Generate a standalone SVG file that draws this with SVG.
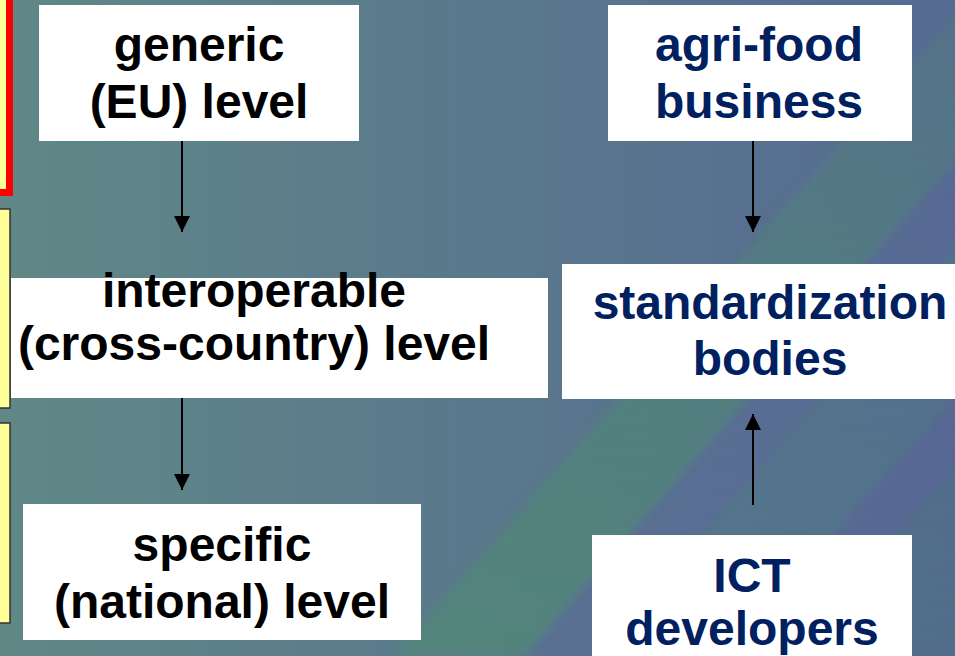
<svg xmlns="http://www.w3.org/2000/svg" width="955" height="656" viewBox="0 0 955 656">
<defs>
<linearGradient id="bg" x1="0" y1="0" x2="1" y2="0">
<stop offset="0" stop-color="#608886"/>
<stop offset="0.45" stop-color="#5a7a8c"/>
<stop offset="1" stop-color="#566a92"/>
</linearGradient>
<linearGradient id="fade" gradientUnits="userSpaceOnUse" x1="0" y1="656" x2="0" y2="0">
<stop offset="0" stop-color="#fff" stop-opacity="1"/>
<stop offset="0.6" stop-color="#fff" stop-opacity="0.7"/>
<stop offset="1" stop-color="#fff" stop-opacity="0.35"/>
</linearGradient>
<mask id="fm"><rect width="955" height="656" fill="url(#fade)"/></mask>
<filter id="soft" x="-10%" y="-10%" width="120%" height="120%"><feGaussianBlur stdDeviation="4"/></filter>
<marker id="ah" viewBox="0 0 16 16" refX="16" refY="8" markerWidth="16" markerHeight="16" markerUnits="userSpaceOnUse" orient="auto">
<path d="M0,0 L16,8 L0,16 Z" fill="#000"/>
</marker>
<style>
.box{fill:#fff}
.t{font-family:"Liberation Sans",Arial,sans-serif;font-weight:bold;font-size:48px;text-anchor:middle}
.blk{fill:#000}
.nav{fill:#002060}
.con{stroke:#000;stroke-width:2;fill:none;marker-end:url(#ah)}
.side{fill:#ffff99;stroke:#333;stroke-width:1.5}
</style>
</defs>
<rect width="955" height="656" fill="url(#bg)"/>
<g mask="url(#fm)">
<g filter="url(#soft)">
<polygon points="965,0 1095,0 524,656 394,656" fill="#4e8c72" opacity="0.6"/>
<polygon points="1095,0 1168,0 597,656 524,656" fill="#5a6a98" opacity="0.5"/>
<polygon points="1168,0 1300,0 729,656 597,656" fill="#4d7a86" opacity="0.5"/>
<polygon points="1300,0 1362,0 791,656 729,656" fill="#5a6498" opacity="0.5"/>
<polygon points="1362,0 1700,0 1129,656 791,656" fill="#4a7282" opacity="0.5"/>
</g>
</g>
<g id="side-boxes">
<rect x="-30" y="-30" width="39.5" height="222.5" fill="#ffff99" stroke="#ff0000" stroke-width="7"/>
<rect class="side" x="-20" y="209" width="30" height="199"/>
<rect class="side" x="-20" y="423" width="30" height="200"/>
</g>
<g id="connectors">
<line class="con" x1="182" y1="141" x2="182" y2="232"/>
<line class="con" x1="182" y1="398" x2="182" y2="490"/>
<line class="con" x1="753" y1="141" x2="753" y2="232"/>
<line class="con" x1="753" y1="505" x2="753" y2="414"/>
</g>
<g id="generic">
<rect class="box" x="39" y="5" width="320" height="136"/>
<text class="t blk" x="199" y="61">generic</text>
<text class="t blk" x="199" y="118">(EU) level</text>
</g>
<g id="interoperable">
<rect class="box" x="11" y="278" width="537" height="120"/>
<text class="t blk" x="254" y="307">interoperable</text>
<text class="t blk" x="254" y="360">(cross-country) level</text>
</g>
<g id="specific">
<rect class="box" x="23" y="504" width="398" height="136"/>
<text class="t blk" x="222" y="561">specific</text>
<text class="t blk" x="222" y="618">(national) level</text>
</g>
<g id="agrifood">
<rect class="box" x="608" y="5" width="304" height="136"/>
<text class="t nav" x="759" y="61">agri-food</text>
<text class="t nav" x="759" y="118">business</text>
</g>
<g id="standardization">
<rect class="box" x="562" y="264" width="400" height="135"/>
<text class="t nav" x="770" y="319">standardization</text>
<text class="t nav" x="770" y="375">bodies</text>
</g>
<g id="ict">
<rect class="box" x="592" y="535" width="320" height="130"/>
<text class="t nav" x="752" y="592">ICT</text>
<text class="t nav" x="752" y="645">developers</text>
</g>
</svg>
